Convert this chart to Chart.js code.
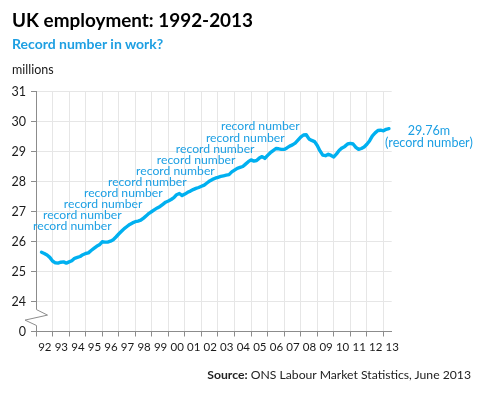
<!DOCTYPE html>
<html>
<head>
<meta charset="utf-8">
<script src="https://cdn.jsdelivr.net/npm/chart.js@4.4.0/dist/chart.umd.min.js"></script>
<style>
  html, body { margin: 0; padding: 0; background: #fff; }
  #wrap { position: relative; width: 481px; height: 393px; overflow: hidden; }
  canvas { position: absolute; left: 0; top: 0; }
  .txt { position: absolute; white-space: nowrap; font-family: Lato, "DejaVu Sans", sans-serif; }
</style>
</head>
<body>
<div id="wrap">
  <canvas id="c" width="481" height="393"></canvas>
  <div class="txt" style="left:12px;top:10.5px;font-size:18.9px;line-height:18.9px;font-weight:bold;color:#000;">UK employment: 1992-2013</div>
  <div class="txt" style="left:12px;top:37px;font-size:14px;line-height:14px;font-weight:bold;color:#1e9fe2;">Record number in work?</div>
  <div class="txt" style="left:12px;top:62.5px;font-size:12.5px;line-height:13px;color:#1a1a1a;">millions</div>
  <div class="txt" style="right:10px;top:369px;font-size:12.2px;line-height:12.2px;color:#222;"><b>Source:</b> ONS Labour Market Statistics, June 2013</div>
</div>
<script>
// ---- data ----
const yearTicks = [1992,1993,1994,1995,1996,1997,1998,1999,2000,2001,2002,2003,2004,2005,2006,2007,2008,2009,2010,2011,2012,2013];
const valueTicks = [23,24,25,26,27,28,29,30,31];
const valueTickLabels = ['0','24','25','26','27','28','29','30','31'];
// UK employment, millions, every two months from May 1992 to May 2013
const firstMonth = 1992 + 4/12;
const employment = [
  25.64,25.60,25.55,25.47,25.35,25.29,25.28,25.31,25.32,25.28,
  25.32,25.36,25.44,25.47,25.50,25.56,25.60,25.62,25.70,25.77,
  25.84,25.89,25.99,25.98,25.98,26.01,26.06,26.15,26.25,26.34,
  26.43,26.50,26.57,26.62,26.66,26.68,26.71,26.78,26.86,26.94,
  27.00,27.06,27.12,27.17,27.24,27.31,27.35,27.40,27.46,27.56,
  27.60,27.53,27.58,27.64,27.68,27.73,27.77,27.80,27.84,27.88,
  27.95,28.02,28.07,28.11,28.14,28.17,28.19,28.21,28.23,28.32,
  28.38,28.44,28.47,28.50,28.58,28.66,28.72,28.68,28.70,28.78,
  28.83,28.77,28.87,28.96,29.03,29.10,29.09,29.07,29.07,29.12,
  29.18,29.22,29.28,29.38,29.48,29.55,29.56,29.42,29.37,29.33,
  29.20,29.02,28.88,28.86,28.91,28.87,28.82,28.92,29.04,29.12,
  29.17,29.25,29.27,29.25,29.14,29.07,29.10,29.15,29.24,29.36,
  29.52,29.62,29.70,29.71,29.69,29.74,29.76
];
// annotation texts anchored in data coordinates (left edge, middle)
const recordLabelX = [1991.82,1992.42,1993.68,1994.90,1996.35,1998.05,1999.30,2000.45,2002.27,2003.18];
const recordLabelY = [26.52,26.88,27.25,27.62,27.98,28.35,28.72,29.08,29.45,29.85];
const recordLabelText = 'record number';
const endLabelLines = ['29.76m', '(record number)'];
const endLabelX = 2015.75;
const endLabelY = [29.69, 29.29];

const points = employment.map((v, i) => ({ x: firstMonth + i / 6, y: v }));

const LINE = '#00b0f0';
const TEXTBLUE = '#1c9fe3';
const AXIS = '#8c8c8c';
const GRID = '#e6e6e6';

const annotations = {
  id: 'annotations',
  afterDatasetsDraw(chart) {
    const { ctx, scales: { x, y } } = chart;
    ctx.save();
    ctx.fillStyle = TEXTBLUE;
    ctx.font = '12.2px Lato, sans-serif';
    ctx.textBaseline = 'middle';
    ctx.textAlign = 'left';
    recordLabelX.forEach((xv, i) => {
      ctx.fillText(recordLabelText, x.getPixelForValue(xv), y.getPixelForValue(recordLabelY[i]));
    });
    ctx.textAlign = 'center';
    ctx.font = '12.6px Lato, sans-serif';
    endLabelLines.forEach((t, i) => {
      ctx.fillText(t, x.getPixelForValue(endLabelX), y.getPixelForValue(endLabelY[i]));
    });
    ctx.restore();
  }
};

const axisBreak = {
  id: 'axisBreak',
  afterDraw(chart) {
    const { ctx, scales: { x, y } } = chart;
    const ax = x.left;
    const y1 = y.getPixelForValue(23.73);
    const y2 = y.getPixelForValue(23.2);
    ctx.save();
    ctx.fillStyle = '#fff';
    ctx.fillRect(ax - 2, y1, 4, y2 - y1);
    ctx.strokeStyle = AXIS;
    ctx.lineWidth = 1;
    ctx.beginPath();
    ctx.moveTo(ax + 0.5, y1);
    ctx.lineTo(ax + 11.5, y1 + 5.5);
    ctx.lineTo(ax - 11, y1 + 10.5);
    ctx.lineTo(ax + 0.5, y2);
    ctx.stroke();
    ctx.restore();
  }
};

new Chart(document.getElementById('c'), {
  type: 'line',
  data: {
    datasets: [{
      data: points,
      borderColor: LINE,
      borderWidth: 3.4,
      pointRadius: 0,
      tension: 0,
      fill: false,
      borderJoinStyle: 'round',
      borderCapStyle: 'round'
    }]
  },
  options: {
    responsive: false,
    animation: false,
    devicePixelRatio: 1,
    layout: { padding: { left: 0, right: 89.3, top: 91.5, bottom: 31.5 } },
    plugins: { legend: { display: false }, tooltip: { enabled: false }, title: { display: false } },
    scales: {
      x: {
        type: 'linear',
        min: 1992,
        max: 2013.5,
        afterBuildTicks: s => { s.ticks = yearTicks.map(v => ({ value: v })); },
        afterFit: s => { s.height = 30; },
        grid: { color: GRID, tickColor: AXIS, tickLength: 5, drawTicks: true, lineWidth: 1 },
        border: { color: AXIS, width: 1 },
        ticks: {
          autoSkip: false, maxRotation: 0, minRotation: 0,
          labelOffset: 8.8, padding: 4,
          color: '#1a1a1a',
          font: { family: 'Lato', size: 11.5 },
          callback: v => String(v).slice(2)
        }
      },
      y: {
        type: 'linear',
        min: 23,
        max: 31,
        afterBuildTicks: s => { s.ticks = valueTicks.map(v => ({ value: v })); },
        afterFit: s => { s.width = 36; },
        grid: { color: GRID, tickColor: AXIS, tickLength: 5, drawTicks: true, lineWidth: 1 },
        border: { color: AXIS, width: 1 },
        ticks: {
          padding: 5,
          color: '#1a1a1a',
          font: { family: 'Lato', size: 12.5 },
          callback: (v) => valueTickLabels[valueTicks.indexOf(v)]
        }
      }
    }
  },
  plugins: [annotations, axisBreak]
});
</script>
</body>
</html>
